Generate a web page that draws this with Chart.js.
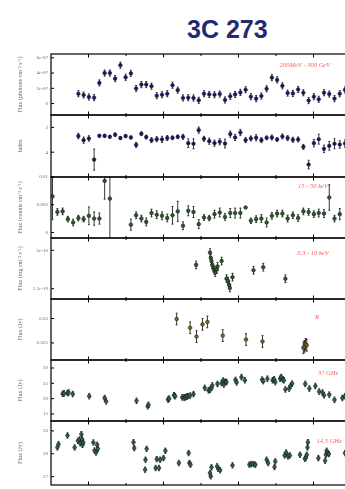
<!DOCTYPE html>
<html>
<head>
<meta charset="utf-8">
<script src="https://cdn.jsdelivr.net/npm/chart.js@4.4.1/dist/chart.umd.min.js"></script>
<style>
  body { margin: 0; background: #fff; overflow: hidden; width: 345px; height: 489px; position: relative; }
  #title { position: absolute; left: 187px; top: 15px; line-height: 25px; font: bold 25px "Liberation Sans", Arial, sans-serif; color: #242a72; white-space: nowrap; }
  canvas { position: absolute; left: 0; }
</style>
</head>
<body>
<div id="title">3C 273</div>
<script>
// days since start of the campaign (two-week bins for Fermi / BAT)
const binDays = [4, 17, 31, 45, 59, 73, 87, 101, 115, 129,
  143, 157, 171, 185, 199, 213, 227, 241, 254, 268,
  282, 296, 310, 324, 338, 352, 366, 380, 394, 408,
  422, 436, 450, 464, 478, 491, 505, 519, 533, 547,
  561, 575, 589, 603, 617, 631, 645, 659, 673, 687,
  701, 714, 728, 742, 756, 770, 784];

// Fermi LAT 200 MeV - 300 GeV, flux in 1e-7 ph cm-2 s-1
const gammaFlux = [null, null, null, null, null,
  1.29, 1.12, 0.86, 0.77, 2.71, 4.0, 4.0, 3.27, 5.03, 3.44,
  3.96, 1.98, 2.49, 2.49, 2.28, 1.03, 1.16, 1.29, 2.41, 1.76,
  0.73, 0.77, 0.73, 0.43, 1.29, 1.2, 1.16, 1.25, 0.47, 0.95,
  1.2, 1.46, 1.81, 0.9, 0.65, 0.99, 1.94, 3.4, 3.1, 2.32,
  1.38, 1.33, 1.85, 1.42, 0.39, 0.9, 0.56, 1.42, 1.25, 0.65,
  1.29, 1.8];
const gammaErr = 0.4;

// photon index
const gammaIndex = [null, null, null, null, null,
  2.70, 3.03, 2.89, 4.6, 2.68, 2.68, 2.76, 2.59, 2.86, 2.70,
  2.81, 3.41, 2.51, 2.78, 3.03, 2.95, 2.97, 2.86, 2.84, 2.76,
  2.76, 3.27, 3.32, 2.22, 2.92, 3.11, 3.27, 3.16, 3.3, 2.54,
  2.81, 2.41, 3.03, 2.89, 2.84, 3.03, 2.84, 2.81, 2.97, 2.73,
  2.86, 3.0, 2.97, 3.57, 5.0, 3.27, 2.95, 3.73, 3.49, 3.32,
  3.38, 3.3];
const gammaIndexErr = [null, null, null, null, null,
  0.22, 0.25, 0.22, 0.85, 0.12, 0.12, 0.12, 0.15, 0.12, 0.12,
  0.12, 0.2, 0.15, 0.15, 0.2, 0.2, 0.25, 0.2, 0.15, 0.15,
  0.2, 0.35, 0.4, 0.25, 0.2, 0.25, 0.25, 0.25, 0.35, 0.25,
  0.25, 0.25, 0.2, 0.2, 0.25, 0.2, 0.15, 0.2, 0.15, 0.2,
  0.2, 0.2, 0.2, 0.2, 0.35, 0.3, 0.4, 0.3, 0.35, 0.4,
  0.3, 0.3];

// Swift BAT 15 - 50 keV, counts cm-2 s-1
const batFlux = [0.0065, 0.0037, 0.0038, 0.0024, 0.0018, 0.0026, 0.0024, 0.0030, 0.0025, 0.0025,
  0.0093, 0.0061, null, null, null, 0.0014, 0.0031, 0.0025, 0.0019, 0.0035,
  0.0032, 0.0030, 0.0026, 0.0031, 0.0038, 0.0012, 0.0039, 0.0037, 0.0015, 0.0027,
  0.0026, 0.0033, 0.0036, 0.0028, 0.0035, 0.0035, 0.0035, 0.0045, 0.0021, 0.0024,
  0.0025, 0.0018, 0.0030, 0.0034, 0.0034, 0.0025, 0.0031, 0.0026, 0.0038, 0.0037,
  0.0033, 0.0035, 0.0034, 0.0063, 0.0025, 0.0033, null];
const batErr = [0.0042, 0.0006, 0.0006, 0.0005, 0.0006, 0.0005, 0.0005, 0.0016, 0.0012, 0.0010,
  0.0033, 0.0075, null, null, null, 0.0010, 0.0006, 0.0006, 0.0007, 0.0007,
  0.0007, 0.0007, 0.0007, 0.0016, 0.0018, 0.0007, 0.0009, 0.0010, 0.0008, 0.0005,
  0.0005, 0.0007, 0.0008, 0.0006, 0.0008, 0.0009, 0.0009, 0, 0.0005, 0.0006,
  0.0007, 0.0008, 0.0006, 0.0006, 0.0006, 0.0006, 0.0006, 0.0006, 0.0006, 0.0006,
  0.0006, 0.0007, 0.0007, 0.0023, 0.0006, 0.0010, null];

// Swift XRT 0.3 - 10 keV, flux in 1e-10 erg cm-2 s-1
const xrtDays = [387, 424, 426, 428, 430, 433, 436, 438, 442, 444, 455, 468, 472, 475, 477, 484, 540, 566, 625];
const xrtFlux = [1.81, 1.97, 1.90, 1.86, 1.81, 1.77, 1.74, 1.71, 1.75, 1.79, 1.86, 1.63, 1.60, 1.55, 1.51, 1.65, 1.74, 1.78, 1.63];
const xrtErr = 0.05;

// optical R band, Jy
const rDays = [335, 371, 388, 404, 417, 458, 520, 564, 673, 676, 679, 682];
const rFlux = [0.0299, 0.0281, 0.0263, 0.0288, 0.0293, 0.0265, 0.0257, 0.0253, 0.0240, 0.0243, 0.0247, 0.0245];
const rErr = 0.0012;

// Metsahovi 37 GHz, Jy
const radio37Days = [31, 35, 44, 47, 58, 102, 143, 147, 228, 258, 260, 312, 315, 328, 331, 350, 355, 358, 362, 365,
  371, 380, 410, 420, 424, 428, 430, 444, 455, 459, 461, 465, 468, 492, 495, 508, 517, 563, 566, 577,
  591, 595, 598, 611, 614, 618, 621, 625, 635, 639, 643, 678, 689, 705, 715, 724, 728, 742, 756, 777, 784];
const radio37Flux = [21.6, 21.7, 21.8, 22.0, 21.5, 20.8, 20.2, 19.1, 19.3, 17.5, 18.0, 19.7, 20.0, 21.1, 20.8, 20.4, 20.4, 20.4, 20.7, 20.8,
  21.0, 21.5, 23.5, 22.7, 22.9, 23.5, 24.3, 24.8, 25.1, 25.9, 24.6, 25.5, 25.4, 26.1, 25.3, 27.0, 26.0, 26.2, 25.7, 26.5,
  26.0, 26.3, 25.4, 26.5, 27.0, 26.3, 26.0, 23.0, 23.3, 24.2, 24.9, 24.8, 23.3, 24.1, 22.3, 22.0, 21.1, 21.3, 19.6, 20.2, 20.8];
const radio37Err = 0.9;

// OVRO 14.5 GHz, Jy
const radio15Days = [17, 20, 44, 63, 72, 76, 78, 81, 83, 84, 86, 113, 116, 120, 123, 125, 220, 222, 251, 252,
  255, 279, 282, 288, 291, 300, 305, 341, 367, 369, 372, 424, 426, 428, 443, 446, 451, 484, 529, 534,
  540, 545, 575, 579, 596, 598, 623, 627, 632, 637, 664, 677, 680, 682, 684, 685, 713, 731, 733, 735,
  738, 741, 784];
const radio15Flux = [30.83, 31.26, 32.4, 30.83, 31.7, 31.87, 31.39, 32.57, 31.9, 31.17, 31.48, 31.48, 30.43, 30.17, 31.17, 30.65, 31.52, 30.74, 27.91, 29.22,
  30.65, 28.13, 29.3, 28.13, 29.22, 29.43, 30.39, 28.78, 30.09, 28.78, 28.57, 27.48, 27.04, 28.22, 28.35, 28.04, 27.83, 28.48, 28.57, 28.65,
  28.65, 28.57, 29.22, 28.78, 28.26, 29.0, 29.78, 30.17, 29.65, 29.78, 29.87, 29.35, 29.52, 29.87, 30.83, 31.52, 29.43, 29.09, 29.87, 30.39,
  30.09, 29.96, 30.09];
const radio15Err = 0.35;

// shared time axis ticks (no labels in the original)
const xTickDays = [100, 200, 300, 400, 500, 600, 700, 800];

const panels = [
  { top: 54, bottom: 115, x: binDays, y: gammaFlux, err: gammaErr, yMin: -1.5, yMax: 6.5,
    ticks: [0, 2, 4, 6], tickLabels: ['0', '2e-07', '4e-07', '6e-07'],
    title: 'Flux (photons cm\u207B\u00B2 s\u207B\u00B9)', label: '200MeV - 300 GeV', lx: 254, ly: 11,
    fill: '#1c1650', border: '#1c1650' },
  { top: 115, bottom: 177, x: binDays, y: gammaIndex, err: gammaIndexErr, yMin: 1, yMax: 6, reverse: true,
    ticks: [2, 4], tickLabels: ['2', '4'], title: 'Index', label: '', fill: '#1c1650', border: '#1c1650' },
  { top: 177, bottom: 238, x: binDays, y: batFlux, err: batErr, yMin: -0.001, yMax: 0.01,
    ticks: [0, 0.005, 0.01], tickLabels: ['0', '0.005', '0.01'],
    title: 'Flux (counts cm\u207B\u00B2 s\u207B\u00B9)', label: '15 - 50 keV', lx: 262, ly: 9,
    fill: '#2d5a2a', border: '#0c1a0c' },
  { top: 238, bottom: 299, x: xrtDays, y: xrtFlux, err: xrtErr, yMin: 1.366, yMax: 2.16,
    ticks: [1.5, 2], tickLabels: ['1.5e-10', '2e-10'],
    title: 'Flux (erg cm\u207B\u00B2 s\u207B\u00B9)', label: '0.3 - 10 keV', lx: 262, ly: 15,
    fill: '#2d5a2a', border: '#0c1a0c' },
  { top: 299, bottom: 360, x: rDays, y: rFlux, err: rErr, yMin: 0.0215, yMax: 0.034,
    ticks: [0.025, 0.03], tickLabels: ['0.025', '0.03'],
    title: 'Flux (Jy)', label: 'R', lx: 266, ly: 18, fill: '#8a6422', border: '#1a1206' },
  { top: 360, bottom: 421, x: radio37Days, y: radio37Flux, err: radio37Err, yMin: 12.7, yMax: 32.6,
    ticks: [15, 20, 25, 30], tickLabels: ['15', '20', '25', '30'],
    title: 'Flux (Jy)', label: '37 GHz', lx: 277, ly: 13, fill: '#2f6156', border: '#0a1a16' },
  { top: 421, bottom: 485, x: radio15Days, y: radio15Flux, err: radio15Err, yMin: 25.9, yMax: 34.3,
    ticks: [27, 30, 33], tickLabels: ['27', '30', '33'],
    title: 'Flux (Jy)', label: '14.5 GHz', lx: 278, ly: 20, fill: '#2f6156', border: '#0a1a16' }
];

const PAD = 8;

function drawPanel(p) {
  const canvas = document.createElement('canvas');
  canvas.width = 372;
  canvas.height = p.bottom - p.top + 2 * PAD;
  canvas.style.top = (p.top - PAD) + 'px';
  document.body.appendChild(canvas);

  const points = p.x.map((x, i) => ({ x: x, y: p.y[i], err: Array.isArray(p.err) ? p.err[i] : p.err }))
    .filter(pt => pt.y != null);

  const decor = {
    id: 'decor',
    beforeDatasetsDraw(chart) {
      const { ctx, chartArea: a } = chart;
      const ys = chart.scales.y;
      const meta = chart.getDatasetMeta(0);
      ctx.save();
      ctx.beginPath();
      ctx.rect(a.left, a.top, a.right - a.left, a.bottom - a.top);
      ctx.clip();
      ctx.strokeStyle = '#222';
      ctx.lineWidth = 0.9;
      points.forEach((pt, i) => {
        if (!pt.err) return;
        const x = meta.data[i].x;
        const y1 = ys.getPixelForValue(pt.y - pt.err);
        const y2 = ys.getPixelForValue(pt.y + pt.err);
        ctx.beginPath();
        ctx.moveTo(x, y1); ctx.lineTo(x, y2);
        ctx.moveTo(x - 1, y1); ctx.lineTo(x + 1, y1);
        ctx.moveTo(x - 1, y2); ctx.lineTo(x + 1, y2);
        ctx.stroke();
      });
      ctx.restore();
    },
    afterDraw(chart) {
      const { ctx, chartArea: a } = chart;
      const xs = chart.scales.x, ys = chart.scales.y;
      ctx.save();
      ctx.strokeStyle = '#000';
      ctx.lineWidth = 1.2;
      ctx.strokeRect(a.left, a.top, a.right - a.left, a.bottom - a.top);
      ctx.lineWidth = 1;
      ctx.beginPath();
      xTickDays.forEach(d => {
        const x = xs.getPixelForValue(d);
        const len = (d / 100) % 2 === 1 ? 3.5 : 2;
        ctx.moveTo(x, a.top); ctx.lineTo(x, a.top + len);
        ctx.moveTo(x, a.bottom); ctx.lineTo(x, a.bottom - len);
      });
      p.ticks.forEach(v => {
        const y = ys.getPixelForValue(v);
        ctx.moveTo(a.left, y); ctx.lineTo(a.left + 3, y);
      });
      ctx.stroke();
      if (p.label) {
        ctx.fillStyle = '#ff5a5a';
        ctx.font = 'italic 6.5px "Liberation Serif", serif';
        ctx.textAlign = 'center';
        ctx.textBaseline = 'middle';
        ctx.fillText(p.label, a.left + p.lx, a.top + p.ly);
      }
      ctx.restore();
    }
  };

  new Chart(canvas, {
    type: 'scatter',
    data: {
      datasets: [{
        data: points,
        pointRadius: 1.8,
        pointBackgroundColor: p.fill,
        pointBorderColor: p.border,
        pointBorderWidth: 0.6
      }]
    },
    options: {
      responsive: false,
      animation: false,
      devicePixelRatio: 1,
      layout: { padding: { top: PAD, bottom: PAD, left: 0, right: 6 } },
      plugins: { legend: { display: false }, tooltip: { enabled: false } },
      scales: {
        x: { type: 'linear', min: 0, max: 840, display: false },
        y: {
          min: p.yMin, max: p.yMax, reverse: !!p.reverse,
          afterFit(s) { s.width = 51; },
          afterBuildTicks(s) { s.ticks = p.ticks.map(v => ({ value: v })); },
          ticks: {
            callback: (v, i) => p.tickLabels[i],
            font: { family: 'Liberation Serif', size: 5 },
            color: '#666', padding: 3, autoSkip: false, maxRotation: 0
          },
          grid: { display: false, drawTicks: false },
          border: { display: false },
          title: {
            display: true, text: p.title,
            font: { family: 'Liberation Serif', size: 6 },
            color: '#666', padding: { top: 17, bottom: 0 }
          }
        }
      }
    },
    plugins: [decor]
  });
}

panels.forEach(drawPanel);
</script>
</body>
</html>
